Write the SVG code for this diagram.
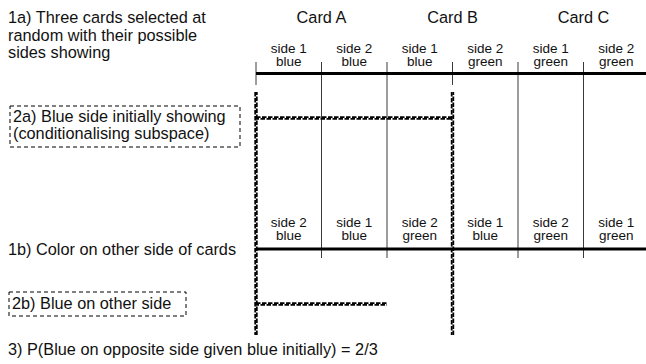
<svg xmlns="http://www.w3.org/2000/svg" width="646" height="364" viewBox="0 0 646 364">
<style>
text{font-family:"Liberation Sans",Arial,sans-serif;fill:#111}
.big{font-size:16.3px}
.lab{font-size:13.5px;text-anchor:middle}
.hd{font-size:16.3px;text-anchor:middle}
.axis{stroke:#000;stroke-width:3;fill:none}
.thin{stroke:#3a3a3a;stroke-width:1;fill:none}
.hA{stroke:#000;stroke-width:1.8;stroke-dasharray:4.5 1.5;fill:none}
.hB{stroke:#000;stroke-width:1.8;stroke-dasharray:4.5 1.5;stroke-dashoffset:1.5;fill:none}
.box{stroke:#000;stroke-width:1;stroke-dasharray:4 3;fill:none}
</style>
<rect width="646" height="364" fill="#fff"/>
<g id="titles">
<text class="big" x="8" y="23">1a) Three cards selected at</text>
<text class="big" x="8" y="40.5">random with their possible</text>
<text class="big" x="8" y="58">sides showing</text>
<text class="hd" x="321.5" y="23">Card A</text>
<text class="hd" x="452.5" y="23">Card B</text>
<text class="hd" x="583.5" y="23">Card C</text>
<text class="big" x="8" y="255">1b) Color on other side of cards</text>
<text class="big" x="8" y="355">3) P(Blue on opposite side given blue initially) = 2/3</text>
</g>
<g id="box2a">
<rect class="box" x="10" y="106" width="230" height="41"/>
<text class="big" x="13" y="122">2a) Blue side initially showing</text>
<text class="big" x="13" y="139">(conditionalising subspace)</text>
</g>
<g id="box2b">
<rect class="box" x="9" y="292" width="177" height="24"/>
<text class="big" x="12" y="308.5">2b) Blue on other side</text>
</g>
<g id="toplabels">
<text class="lab" x="288.75" y="52.5">side 1</text><text class="lab" x="288.75" y="65.5">blue</text>
<text class="lab" x="354.25" y="52.5">side 2</text><text class="lab" x="354.25" y="65.5">blue</text>
<text class="lab" x="419.75" y="52.5">side 1</text><text class="lab" x="419.75" y="65.5">blue</text>
<text class="lab" x="485.25" y="52.5">side 2</text><text class="lab" x="485.25" y="65.5">green</text>
<text class="lab" x="550.75" y="52.5">side 1</text><text class="lab" x="550.75" y="65.5">green</text>
<text class="lab" x="616.25" y="52.5">side 2</text><text class="lab" x="616.25" y="65.5">green</text>
</g>
<g id="bottomlabels">
<text class="lab" x="288.75" y="227">side 2</text><text class="lab" x="288.75" y="240">blue</text>
<text class="lab" x="354.25" y="227">side 1</text><text class="lab" x="354.25" y="240">blue</text>
<text class="lab" x="419.75" y="227">side 2</text><text class="lab" x="419.75" y="240">green</text>
<text class="lab" x="485.25" y="227">side 1</text><text class="lab" x="485.25" y="240">blue</text>
<text class="lab" x="550.75" y="227">side 2</text><text class="lab" x="550.75" y="240">green</text>
<text class="lab" x="616.25" y="227">side 1</text><text class="lab" x="616.25" y="240">green</text>
</g>
<g id="connectors">
<line class="thin" x1="321.5" y1="62" x2="321.5" y2="258"/>
<line class="thin" x1="387" y1="62" x2="387" y2="258"/>
<line class="thin" x1="518" y1="62" x2="518" y2="258"/>
<line class="thin" x1="583.5" y1="62" x2="583.5" y2="258"/>
<line class="thin" x1="256" y1="62" x2="256" y2="85"/>
<line class="thin" x1="452.5" y1="62" x2="452.5" y2="85"/>
<line class="axis" x1="256" y1="73.5" x2="646" y2="73.5"/>
<line class="axis" x1="256" y1="249" x2="646" y2="249"/>
<line class="hA" x1="255.2" y1="92" x2="255.2" y2="335"/>
<line class="hB" x1="256.8" y1="92" x2="256.8" y2="335"/>
<line class="hA" x1="451.7" y1="92" x2="451.7" y2="335"/>
<line class="hB" x1="453.3" y1="92" x2="453.3" y2="335"/>
<line class="hA" x1="256" y1="117.2" x2="452.5" y2="117.2"/>
<line class="hB" x1="256" y1="118.8" x2="452.5" y2="118.8"/>
<line class="hA" x1="256" y1="303.2" x2="387" y2="303.2"/>
<line class="hB" x1="256" y1="304.8" x2="387" y2="304.8"/>
</g>
</svg>
